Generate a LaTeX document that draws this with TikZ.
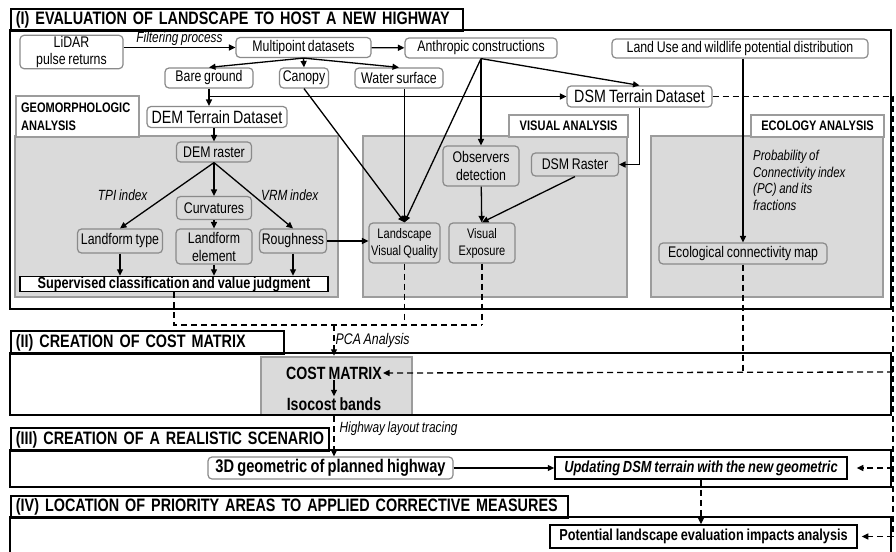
\documentclass[tikz,border=0pt]{standalone}
\usepackage{fontspec}
\setmainfont{Liberation Sans}[FakeStretch=0.8, WordSpace=0.8]
\usetikzlibrary{arrows.meta,positioning}
\definecolor{panelgray}{HTML}{DADADA}
\definecolor{framegray}{HTML}{9C9C9C}
\definecolor{boxgray}{HTML}{8A8A8A}
\tikzset{>={Triangle[length=6.5pt,width=6pt]}}
\tikzset{
  rbox/.style={draw=boxgray, line width=1.2pt, rounded corners=4pt, fill=white, align=center, inner sep=1pt, font=\fontsize{15.4}{17}\selectfont},
  gbox/.style={rbox, fill=panelgray},
  kbox/.style={draw=black, line width=1.5pt, fill=white, inner sep=0pt, font=\bfseries\fontsize{15.9}{17}\selectfont},
  panel/.style={draw=framegray, line width=2.5pt, fill=panelgray},
  tabbox/.style={draw=framegray, line width=2.2pt, fill=white, anchor=north west, inner sep=0pt, font=\bfseries\fontsize{13.8}{18}\selectfont},
  secframe/.style={draw=black, line width=1.7pt},
  sechead/.style={draw=black, line width=1.7pt, anchor=north west, inner xsep=5pt, inner ysep=0pt, align=left, font=\bfseries\fontsize{18}{19}\selectfont},
  lbl/.style={inner sep=1pt, font=\itshape\fontsize{14.8}{16}\selectfont},
  conn/.style={line width=1.3pt},
  dconn/.style={line width=1.3pt, dash pattern=on 6pt off 4pt},
}

\begin{document}
\begin{tikzpicture}[x=1pt,y=-1pt]
  \useasboundingbox (0,0) rectangle (896,551);
  \fill[white] (0,0) rectangle (896,551);
  % analysis panels
  \draw[panel] (15,136) rectangle (338,297);
  \draw[panel] (363,136) rectangle (627,297);
  \draw[panel] (651,136) rectangle (883,297);
  \node[tabbox, minimum width=123, minimum height=41, text width=113, inner xsep=5pt, align=left] (geotab) at (15,95) {GEOMORPHOLOGIC\\ANALYSIS};
  \node[tabbox, minimum width=119, minimum height=22] (vistab) at (508,114) {VISUAL ANALYSIS};
  \node[tabbox, minimum width=133, minimum height=22] (ecotab) at (750,114) {ECOLOGY ANALYSIS};
  \node[panel, minimum width=151, minimum height=58] (cost) at (336.5,386) {};
  % section frames
  \node[sechead, minimum height=22, text width=442] (h1) at (10,8) {\mbox{(I) EVALUATION OF LANDSCAPE TO HOST A NEW HIGHWAY}};
  \draw[secframe] (10,30) rectangle (891,309);
  \node[sechead, minimum height=23, text width=263] (h2) at (10,330) {\mbox{(II) CREATION OF COST MATRIX}};
  \draw[secframe] (10,353) rectangle (891,415);
  \node[sechead, minimum height=23, text width=308] (h3) at (10,427) {\mbox{(III) CREATION OF A REALISTIC SCENARIO}};
  \draw[secframe] (10,450) rectangle (891,487);
  \node[sechead, minimum height=22, text width=547] (h4) at (10,495) {\mbox{(IV) LOCATION OF PRIORITY AREAS TO APPLIED CORRECTIVE MEASURES}};
  \draw[secframe] (10,553) |- (891,517) -- (891,553);
  % (I) data sources
  \node[rbox, minimum width=103, minimum height=32, font=\fontsize{15.4}{17}\selectfont] (lidar) at (71.5,52) {LiDAR\\pulse returns};
  \node[rbox, minimum width=135, minimum height=20] (multi) at (303.5,47.5) {Multipoint datasets};
  \node[rbox, minimum width=152, minimum height=20] (anthro) at (481,48) {Anthropic constructions};
  \node[rbox, minimum width=256, minimum height=19] (landuse) at (740,48.5) {Land Use and wildlife potential distribution};
  \node[rbox, minimum width=88, minimum height=20] (bare) at (209,78) {Bare ground};
  \node[rbox, minimum width=49, minimum height=20] (canopy) at (304,78) {Canopy};
  \node[rbox, minimum width=88, minimum height=20] (water) at (399,78) {Water surface};
  \node[rbox, minimum width=140, minimum height=21, font=\fontsize{17.8}{18}\selectfont] (demds) at (217,117) {DEM Terrain Dataset};
  \node[rbox, minimum width=145, minimum height=21, font=\fontsize{17.8}{18}\selectfont] (dsmds) at (639.5,96.5) {DSM Terrain Dataset};
  % geomorphologic analysis
  \node[gbox, minimum width=75, minimum height=20] (demr) at (214,152) {DEM raster};
  \node[gbox, minimum width=75, minimum height=23] (curv) at (214,208) {Curvatures};
  \node[gbox, minimum width=85, minimum height=24] (lftype) at (120,241) {Landform type};
  \node[gbox, minimum width=76, minimum height=35, font=\fontsize{15.4}{18}\selectfont] (lfelem) at (214,246.5) {Landform\\element};
  \node[gbox, minimum width=67, minimum height=24] (rough) at (293,241) {Roughness};
  \node[kbox, minimum width=308, minimum height=15] (superv) at (174,284) {Supervised classification and value judgment};
  % visual analysis
  \node[gbox, minimum width=76, minimum height=40, font=\fontsize{15.4}{18}\selectfont] (obs) at (481,166) {Observers\\detection};
  \node[gbox, minimum width=87, minimum height=23] (dsmr) at (575,164.5) {DSM Raster};
  \node[gbox, minimum width=71, minimum height=40, font=\fontsize{13.8}{17}\selectfont] (lvq) at (404.5,243) {Landscape\\Visual Quality};
  \node[gbox, minimum width=66, minimum height=40, font=\fontsize{13.8}{17}\selectfont] (vexp) at (482,243) {Visual\\Exposure};
  % ecology analysis
  \node[lbl, anchor=north west, align=left, font=\itshape\fontsize{14.3}{16.5}\selectfont] (pcnote) at (752,149) {Probability of\\Connectivity index\\(PC) and its\\fractions};
  \node[gbox, minimum width=168, minimum height=21] (ecomap) at (743,253.5) {Ecological connectivity map};
  % (II)-(IV)
  \node[font=\bfseries\fontsize{17.7}{18}\selectfont, inner sep=1pt] (costm) at (334,373) {COST MATRIX};
  \node[font=\bfseries\fontsize{17.7}{18}\selectfont, inner sep=1pt] (isoc) at (334,404) {Isocost bands};
  \node[rbox, minimum width=245, minimum height=22, font=\bfseries\fontsize{18.3}{19}\selectfont] (geo3d) at (330.5,468) {3D geometric of planned highway};
  \node[kbox, minimum width=292, minimum height=22, font=\bfseries\itshape\fontsize{16.1}{17}\selectfont] (update) at (701,468) {Updating DSM terrain with the new geometric};
  \node[kbox, minimum width=307, minimum height=23] (potential) at (703.5,536.5) {Potential landscape evaluation impacts analysis};
  % connectors
  \draw[conn,->] (lidar.east |- multi) -- node[lbl, above]{Filtering process} (multi.west);
  \draw[conn,->] (multi) -- (anthro);
  \draw[conn,->] (multi.south) -- (bare.north);
  \draw[conn,->] (multi.south) -- (canopy.north);
  \draw[conn,->] (multi.south) -- (water.north);
  \coordinate (aux1) at (bare.south |- dsmds.west);
  \draw[conn,->] (bare.south) -- (bare.south |- demds.north);
  \draw[conn,->] (aux1) -- (dsmds.west);
  \draw[conn,->] (demr.north |- demds.south) -- (demr.north);
  \draw[conn,->] (demr.south) -- node[lbl, left=18pt]{TPI index} (lftype.north);
  \draw[conn,->] (demr.south) -- (curv.north);
  \draw[conn,->] (demr.south) -- node[lbl, right=6pt]{VRM index} (rough.north);
  \draw[conn,->] (curv) -- (lfelem);
  \draw[conn,->] (lftype.south) -- (lftype.south |- superv.north);
  \draw[conn,->] (lfelem.south) -- (lfelem.south |- superv.north);
  \draw[conn,->] (rough.south) -- (rough.south |- superv.north);
  \draw[conn,->] (rough.east) -- (lvq.west |- rough.east);
  \draw[conn,->] (canopy.south) -- (lvq.north);
  \draw[conn,->] (lvq.north |- water.south) -- (lvq.north);
  \draw[conn,->] (anthro.south) -- (lvq.north);
  \draw[conn,->] (anthro.south) -- (obs.north);
  \draw[conn,->] (anthro.south) -- (dsmds.north);
  \draw[conn,->] (dsmds.south) |- (dsmr.east);
  \draw[conn,->] (obs) -- (vexp);
  \draw[conn,->] (dsmr.south) -- (vexp.north);
  \draw[conn,->] (ecomap.north |- landuse.south) -- (ecomap.north);
  % dashed links to the cost matrix
  \coordinate (pca) at (334,325);
  \coordinate (r1) at (893,372);
  \coordinate (r2) at (893,468);
  \coordinate (r3) at (893,536.5);
  \draw[dconn] (superv.south) |- (vexp.south |- pca);
  \draw[dconn] (lvq.south) -- (lvq.south |- pca);
  \draw[dconn] (vexp.south) -- (vexp.south |- pca);
  \draw[dconn,->] (pca) -- node[lbl, right, font=\itshape\fontsize{15.4}{16}\selectfont]{PCA Analysis} (pca |- cost.north);
  \draw[dconn] (dsmds.east) -| (r3);
  \draw[dconn] (ecomap.south) -- (ecomap.south |- r1);
  \draw[dconn,->] (r1) -- (costm.east);
  \draw[conn,->] (costm) -- (isoc);
  \draw[dconn,->] (cost.south -| pca) -- node[lbl, pos=0.3, right, xshift=4pt]{Highway layout tracing} (geo3d.north -| pca);
  \draw[conn,->] (geo3d) -- (update);
  \draw[dconn,->, shorten >=9pt] (r2) -- (update.east);
  \draw[dconn,->] (update.south) -- (update.south |- potential.north);
  \draw[dconn,->, shorten >=4pt] (r3) -- (potential.east);
\end{tikzpicture}
\end{document}
